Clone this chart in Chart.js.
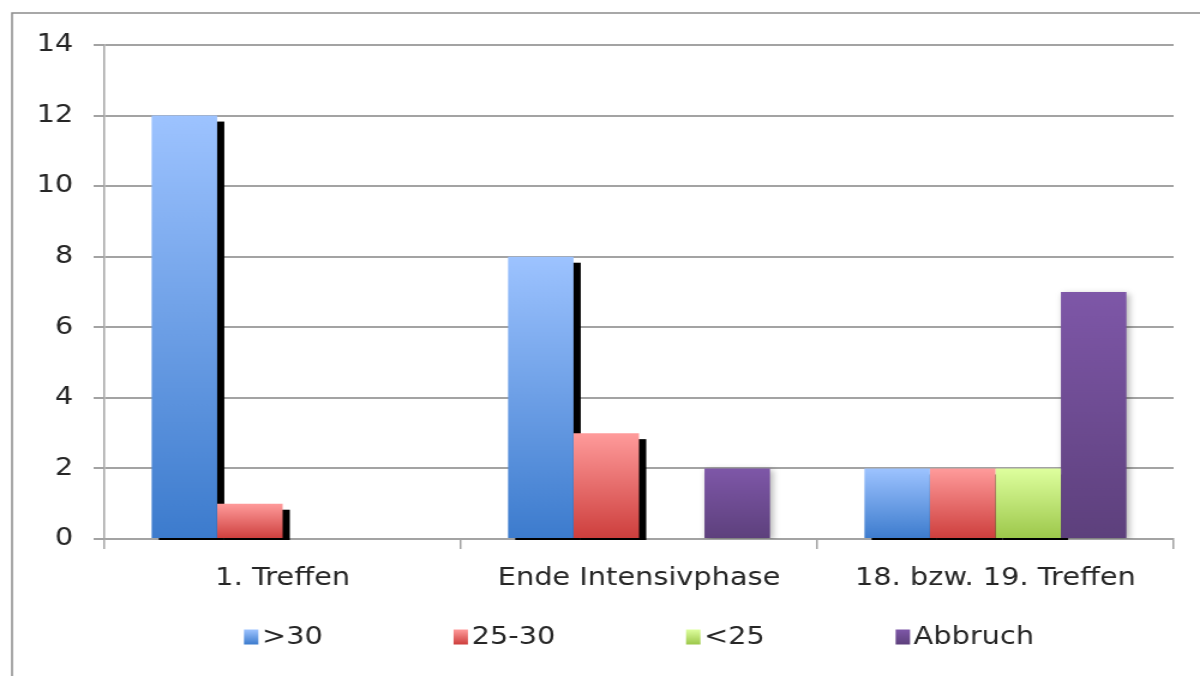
<!DOCTYPE html>
<html>
<head>
<meta charset="utf-8">
<script src="https://cdn.jsdelivr.net/npm/chart.js@4.4.0/dist/chart.umd.min.js"></script>
<style>
    body {
        margin: 0;
        background-color: #ffffff;
    }
</style>
</head>
<body>
<!-- the original picture is stretched sideways, so the canvas is too -->
<canvas id="myChart" width="1000" height="676" style="display:block;width:1200px;height:676px;"></canvas>
<script>
    var categories = ['1. Treffen', 'Ende Intensivphase', '18. bzw. 19. Treffen'];
    var seriesNames = ['>30', '25-30', '<25', 'Abbruch'];

    var over30 = [12, 8, 2];
    var from25to30 = [1, 3, 2];
    var under25 = [0, 0, 2];
    var abbruch = [0, 2, 7];

    var yTicks = [0, 2, 4, 6, 8, 10, 12, 14];

    // light top / dark bottom of each bar gradient
    var topColors = ['rgb(157,195,255)', 'rgb(255,155,155)', 'rgb(222,255,158)', 'rgb(126,87,168)'];
    var bottomColors = ['rgb(60,123,205)', 'rgb(205,62,60)', 'rgb(156,199,74)', 'rgb(93,64,124)'];

    var fontName = '"DejaVu Sans", Verdana, sans-serif';
    var textColor = '#262626';
    var lineColor = '#a3a3a3';

    function barGradient(top, bottom) {
        return function (c) {
            var chart = c.chart;
            if (c.type !== 'data' || !chart.chartArea || !chart.scales.y) return bottom;
            var y = chart.scales.y;
            var yTop = y.getPixelForValue(c.raw);
            var yBase = y.getPixelForValue(0);
            if (!isFinite(yTop) || !isFinite(yBase) || yTop === yBase) return bottom;
            var g = chart.ctx.createLinearGradient(0, yTop, 0, yBase);
            g.addColorStop(0, top);
            g.addColorStop(1, bottom);
            return g;
        };
    }

    var allValues = [over30, from25to30, under25, abbruch];

    var datasets = [];
    for (var i = 0; i < seriesNames.length; i++) {
        datasets.push({
            label: seriesNames[i],
            data: allValues[i],
            backgroundColor: barGradient(topColors[i], bottomColors[i]),
            borderWidth: 0,
            hardShadow: i < 3,
            softShadow: i === 3
        });
    }

    var excelLook = {
        id: 'excelLook',
        beforeDraw: function (chart) {
            var ctx = chart.ctx;
            ctx.save();
            ctx.strokeStyle = '#8c8c8c';
            ctx.lineWidth = 1.5;
            ctx.beginPath();
            ctx.moveTo(10, chart.height + 5);
            ctx.lineTo(10, 13);
            ctx.lineTo(chart.width + 5, 13);
            ctx.stroke();
            ctx.restore();
        },
        // all black shadows go down first, the bars then cover what they overlap
        beforeDatasetsDraw: function (chart) {
            var ctx = chart.ctx;
            ctx.save();
            ctx.fillStyle = '#000000';
            chart.data.datasets.forEach(function (ds, d) {
                if (!ds.hardShadow) return;
                chart.getDatasetMeta(d).data.forEach(function (bar, j) {
                    if (!ds.data[j]) return;
                    var left = bar.x - bar.width / 2 + 6;
                    ctx.fillRect(left, bar.y + 6, bar.width, bar.base + 2 - (bar.y + 6));
                });
            });
            ctx.restore();
        },
        beforeDatasetDraw: function (chart, args) {
            var ds = chart.data.datasets[args.index];
            if (ds.softShadow) {
                var ctx = chart.ctx;
                ctx.save();
                ctx.shadowColor = 'rgba(0,0,0,0.3)';
                ctx.shadowBlur = 6;
                ctx.shadowOffsetX = 2;
                ctx.shadowOffsetY = 2;
            }
        },
        afterDatasetDraw: function (chart, args) {
            var ds = chart.data.datasets[args.index];
            if (ds.softShadow) chart.ctx.restore();
        },
        afterDraw: function (chart) {
            // legend row under the axis labels
            var ctx = chart.ctx;
            var boxW = 12, boxH = 15, textGap = 3, itemGap = 109;
            ctx.save();
            ctx.font = '24px ' + fontName;
            ctx.textBaseline = 'middle';
            ctx.fillStyle = textColor;
            var widths = seriesNames.map(function (s) {
                return boxW + textGap + ctx.measureText(s).width;
            });
            var total = widths.reduce(function (a, b) { return a + b; }, 0) + itemGap * (widths.length - 1);
            var area = chart.chartArea;
            var x = (area.left + area.right) / 2 - total / 2;
            var yc = chart.height - 39;
            for (var k = 0; k < seriesNames.length; k++) {
                var g = ctx.createLinearGradient(0, yc - boxH / 2, 0, yc + boxH / 2);
                g.addColorStop(0, topColors[k]);
                g.addColorStop(1, bottomColors[k]);
                ctx.fillStyle = g;
                ctx.fillRect(x, yc - boxH / 2, boxW, boxH);
                ctx.fillStyle = textColor;
                ctx.fillText(seriesNames[k], x + boxW + textGap, yc + 1);
                x += widths[k] + itemGap;
            }
            ctx.restore();
        }
    };

    var paintingCanvas = document.getElementById('myChart').getContext('2d');
    var chart = new Chart(paintingCanvas, {
        type: 'bar',
        data: {
            labels: categories,
            datasets: datasets
        },
        options: {
            responsive: false,
            animation: false,
            layout: {
                padding: { left: 0, right: 22, top: 45, bottom: 0 }
            },
            datasets: {
                bar: {
                    categoryPercentage: 0.735,
                    barPercentage: 1
                }
            },
            plugins: {
                legend: { display: false },
                tooltip: { enabled: false }
            },
            scales: {
                x: {
                    grid: {
                        offset: true,
                        drawOnChartArea: false,
                        drawTicks: true,
                        tickLength: 10,
                        color: lineColor,
                        lineWidth: 1.5
                    },
                    border: { color: lineColor, width: 1.5 },
                    ticks: {
                        color: textColor,
                        font: { family: fontName, size: 24 },
                        padding: 15,
                        maxRotation: 0,
                        autoSkip: false
                    },
                    afterFit: function (scale) {
                        scale.height = 137;
                    }
                },
                y: {
                    min: 0,
                    max: 14,
                    afterBuildTicks: function (axis) {
                        axis.ticks = yTicks.map(function (v) { return { value: v }; });
                    },
                    grid: {
                        color: lineColor,
                        lineWidth: 2,
                        tickLength: 9
                    },
                    border: { color: lineColor, width: 1.5 },
                    ticks: {
                        color: textColor,
                        font: { family: fontName, size: 24 },
                        padding: 17
                    },
                    afterFit: function (scale) {
                        scale.width = 87;
                    }
                }
            }
        },
        plugins: [excelLook]
    });
</script>
</body>
</html>
